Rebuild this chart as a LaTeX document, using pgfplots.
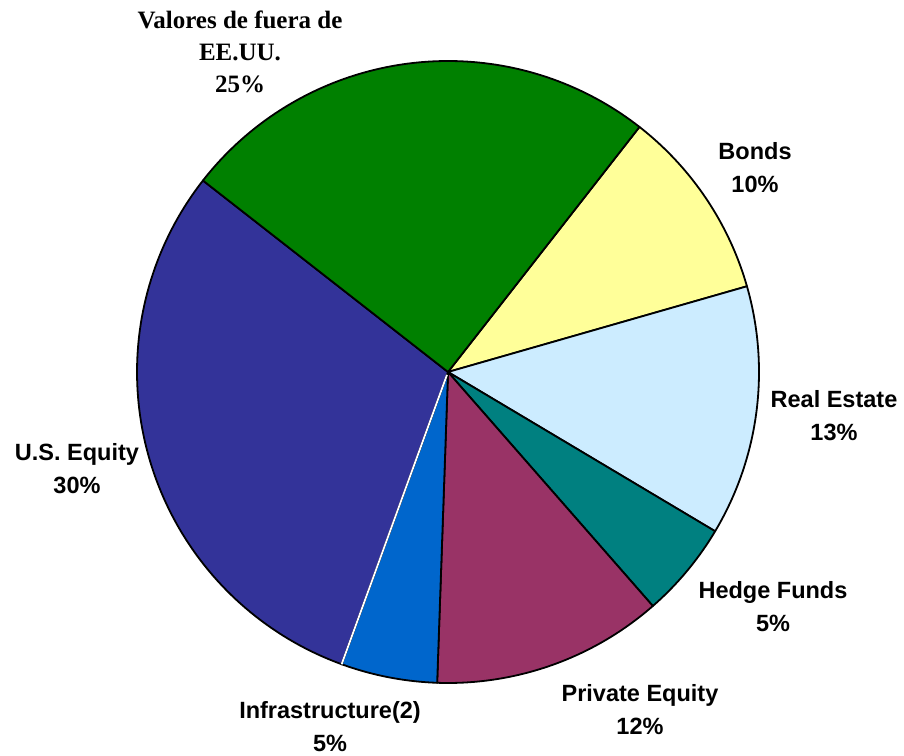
\documentclass[border=0pt]{standalone}
\usepackage{pgfplots}
\usepackage{pgfplotstable}
\pgfplotsset{compat=1.18}
\usepackage{fontspec}
\setmainfont{Liberation Sans}
\newfontfamily\timesf{Liberation Serif}

\definecolor{col0}{HTML}{FFFF99}
\definecolor{col1}{HTML}{CCECFF}
\definecolor{col2}{HTML}{008080}
\definecolor{col3}{HTML}{993366}
\definecolor{col4}{HTML}{0066CC}
\definecolor{col5}{HTML}{333399}
\definecolor{col6}{HTML}{008000}

\pgfplotstableread{
label value
Bonds 10
RealEstate 13
HedgeFunds 5
PrivateEquity 12
Infrastructure 5
USEquity 30
Valores 25
}\piedata

\def\cx{448}
\def\cy{382}
\def\R{311}

\begin{document}
\begin{tikzpicture}
\begin{axis}[
  at={(0,0)}, anchor=south west,
  scale only axis, width=904pt, height=754pt,
  xmin=0, xmax=904, ymin=0, ymax=754,
  hide axis, clip=false,
]
\path (rel axis cs:0,0) rectangle (rel axis cs:1,1);
\gdef\curang{52}
\pgfplotsforeachungrouped \i in {0,...,6}{%
  \pgfplotstablegetelem{\i}{value}\of\piedata
  \pgfmathsetmacro\nextang{\curang-3.6*\pgfplotsretval}%
  \edef\doslice{\noexpand\addplot[fill=col\i, draw=black, line width=1.8pt, line join=round,
     domain=\nextang:\curang, samples=90, variable=\noexpand\t]
     ({\cx+\R*cos(\noexpand\t)},{\cy+\R*sin(\noexpand\t)}) -- (axis cs:\cx,\cy) -- cycle;}%
  \doslice
  \ifnum\i=4 \xdef\whiteang{\nextang}\fi
  \xdef\curang{\nextang}%
}
\edef\dowhite{\noexpand\addplot[white, line width=1.8pt, domain=3:\R, samples=2, variable=\noexpand\t]
   ({\cx+\noexpand\t*cos(\whiteang)},{\cy+\noexpand\t*sin(\whiteang)});}
\dowhite

\tikzset{lab/.style={align=center, font=\fontsize{23.5}{33}\selectfont\bfseries}}
\node[lab, font=\timesf\fontsize{25}{32}\selectfont\bfseries] at (axis cs:240,702) {Valores de fuera de\\EE.UU.\\25\%};
\node[lab] at (axis cs:755,586) {Bonds\\10\%};
\node[lab] at (axis cs:834,338) {Real Estate\\13\%};
\node[lab] at (axis cs:773,147) {Hedge Funds\\5\%};
\node[lab] at (axis cs:640,44) {Private Equity\\12\%};
\node[lab] at (axis cs:330,27) {Infrastructure(2)\\5\%};
\node[lab] at (axis cs:77,285) {U.S. Equity\\30\%};
\end{axis}
\end{tikzpicture}
\end{document}
